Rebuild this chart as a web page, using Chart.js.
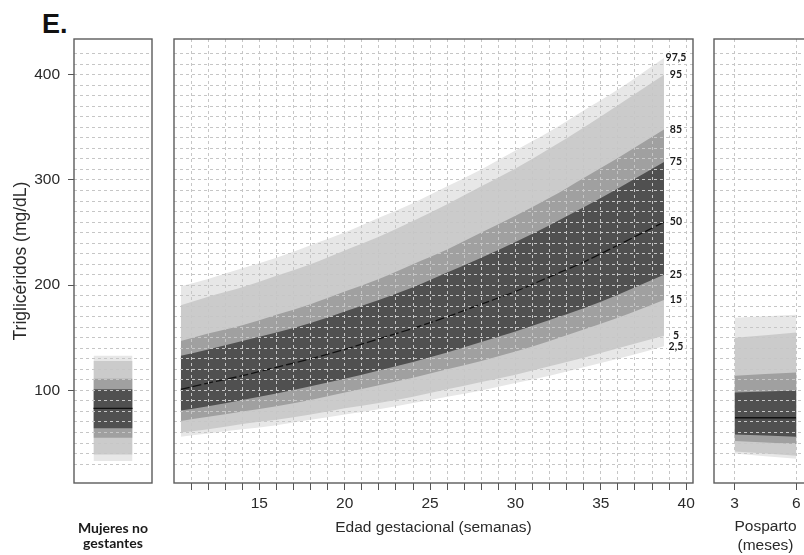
<!DOCTYPE html>
<html>
<head>
<meta charset="utf-8">
<script src="https://cdn.jsdelivr.net/npm/chart.js@4.4.1/dist/chart.umd.min.js"></script>
<style>
  html, body { margin: 0; padding: 0; width: 804px; height: 555px; overflow: hidden; background: #fff; }
  canvas { position: absolute; top: 0; }
  #tag { position: absolute; left: 42px; top: 11px; font: bold 27px "Liberation Sans", Arial, sans-serif; line-height: 27px; color: #111; }
</style>
</head>
<body>
<div id="tag">E.</div>
<canvas id="cNoGest" width="160" height="555" style="left:0"></canvas>
<canvas id="cGest" width="560" height="555" style="left:154px"></canvas>
<canvas id="cPost" width="140" height="555" style="left:694px"></canvas>
<script>
// percentile labels, top to bottom
const percentiles = ['97,5', '95', '85', '75', '50', '25', '15', '5', '2,5'];

// gestation (weeks) and percentile curves, mg/dL
const weeks = [10.4, 12, 14, 16, 18, 20, 22, 24, 26, 28, 30, 32, 34, 36, 38.7];
const gP97_5 = [199, 206, 216, 226, 238, 250, 264, 278, 294, 310, 328, 346, 366, 386, 416];
const gP95   = [181, 189, 198, 209, 220, 233, 246, 261, 277, 294, 311, 330, 350, 371, 400];
const gP85   = [147, 154, 162, 172, 182, 194, 206, 220, 234, 250, 266, 283, 302, 321, 348];
const gP75   = [133, 139, 147, 155, 164, 175, 186, 198, 212, 226, 241, 257, 274, 292, 317];
const gP50   = [101, 107, 114, 122, 130, 139, 149, 159, 170, 182, 194, 208, 222, 238, 260];
const gP25   = [81, 85, 91, 97, 104, 111, 119, 127, 136, 146, 156, 167, 178, 191, 210];
const gP15   = [71, 75, 80, 85, 91, 98, 105, 112, 120, 128, 137, 147, 158, 169, 186];
const gP5    = [60, 63, 68, 72, 77, 83, 88, 94, 101, 108, 115, 123, 131, 140, 152];
const gP2_5  = [56, 59, 63, 67, 72, 77, 82, 88, 94, 100, 107, 114, 122, 130, 142];

// non-pregnant women, one value per percentile (same order as labels)
const noGestX = [0.25, 0.75];
const noGestValues = [133, 128, 111, 101, 83, 64, 55, 39, 33];

// postpartum (months)
const postMonths = [3, 6];
const pP97_5 = [169, 172];
const pP95   = [150, 155];
const pP85   = [114, 117];
const pP75   = [98, 100];
const pP50   = [74, 74];
const pP25   = [58, 56];
const pP15   = [52, 49];
const pP5    = [42, 38];
const pP2_5  = [40, 35];

// axis ticks
const yTickLabels = [100, 200, 300, 400];
const weekTickLabels = [15, 20, 25, 30, 35, 40];
const monthTickLabels = [3, 6];

const DARK = '#505050', MID = '#a0a0a0', LIGHT = '#cbcbcb', LIGHTEST = '#e7e7e7';
const GRID = '#c6c6c6', AXIS = '#555', TEXT = '#2a2a2a';
const FONT = { family: '"Liberation Sans", Arial, sans-serif', size: 15.5 };
const Y_MIN = 12, Y_MAX = 434;

const gridY = [];
for (let v = 30; v <= 420; v += 10) gridY.push(v);
const weekTicks = [];
for (let w = 11; w <= 40; w++) weekTicks.push(w);

function bandSets(xs, s, medianDash) {
  const pts = arr => arr.map((v, i) => ({ x: xs[i], y: v }));
  const edge = (arr, fill, color) => ({
    data: pts(arr), fill: fill === null ? false : fill, backgroundColor: color || 'transparent',
    borderColor: 'transparent', borderWidth: 0, pointRadius: 0, cubicInterpolationMode: 'monotone'
  });
  return [
    { data: pts(s[4]), fill: false, borderColor: '#111', borderWidth: 1.3, borderDash: medianDash,
      pointRadius: 0, cubicInterpolationMode: 'monotone' },
    edge(s[3], 2, DARK), edge(s[5], null),
    edge(s[2], 4, MID), edge(s[6], null),
    edge(s[1], 6, LIGHT), edge(s[7], null),
    edge(s[0], 8, LIGHTEST), edge(s[8], null)
  ];
}

function yScale(withLabels) {
  return {
    min: Y_MIN, max: Y_MAX,
    afterBuildTicks: a => { a.ticks = gridY.map(v => ({ value: v })); },
    afterFit: s => { s.width = withLabels ? 74 : 0; },
    grid: { z: 1, color: GRID, lineWidth: 1, drawTicks: withLabels, tickLength: 6, tickWidth: 1,
      tickColor: c => yTickLabels.includes(c.tick && c.tick.value) ? AXIS : 'transparent' },
    border: { display: false, dash: [3, 3] },
    ticks: { display: withLabels, autoSkip: false, padding: 8, color: TEXT, font: FONT,
      callback: v => yTickLabels.includes(v) ? String(v) : '' },
    title: { display: withLabels, text: 'Triglicéridos (mg/dL)', color: TEXT,
      font: { family: FONT.family, size: 17.5 }, padding: { top: 11 } }
  };
}

const framePlugin = {
  id: 'frame',
  afterDraw(chart) {
    const { ctx, chartArea: a } = chart;
    ctx.save();
    ctx.strokeStyle = '#5c5c5c';
    ctx.lineWidth = 1.4;
    ctx.strokeRect(a.left, a.top, a.right - a.left, a.bottom - a.top);
    ctx.restore();
  }
};

const gestSeries = [gP97_5, gP95, gP85, gP75, gP50, gP25, gP15, gP5, gP2_5];
const LABEL_WEEK = 39.4;
const pctLabelPlugin = {
  id: 'pctLabels',
  afterDraw(chart) {
    const { ctx, scales: { x, y } } = chart;
    ctx.save();
    ctx.font = 'bold 10.5px Lato, "Open Sans", sans-serif';
    ctx.textAlign = 'center';
    ctx.textBaseline = 'middle';
    const cx = x.getPixelForValue(LABEL_WEEK);
    gestSeries.forEach((s, i) => {
      const py = y.getPixelForValue(s[s.length - 1]);
      const w = ctx.measureText(percentiles[i]).width;
      ctx.fillStyle = '#fff';
      ctx.fillRect(cx - w / 2 - 1.5, py - 6, w + 3, 12);
      ctx.fillStyle = '#1a1a1a';
      ctx.fillText(percentiles[i], cx, py);
    });
    ctx.restore();
  }
};

const common = {
  responsive: false, animation: false,
  plugins: { legend: { display: false }, tooltip: { enabled: false } }
};

// Mujeres no gestantes
new Chart(document.getElementById('cNoGest'), {
  type: 'line',
  data: { datasets: bandSets(noGestX, noGestValues.map(v => [v, v]), []) },
  options: {
    ...common,
    layout: { padding: { top: 39, right: 8, left: 0, bottom: 0 } },
    scales: {
      x: { type: 'linear', min: 0, max: 1,
        afterFit: s => { s.height = 72; },
        grid: { display: false }, border: { display: false },
        ticks: { display: false },
        title: { display: true, text: ['Mujeres no', 'gestantes'], color: '#1a1a1a',
          font: { family: 'Lato, "Open Sans", sans-serif', size: 14, weight: 'bold', lineHeight: '15px' },
          padding: { bottom: 4.5 } } },
      y: yScale(true)
    }
  },
  plugins: [framePlugin]
});

// Edad gestacional
new Chart(document.getElementById('cGest'), {
  type: 'line',
  data: { datasets: bandSets(weeks, gestSeries, [9, 3]) },
  options: {
    ...common,
    layout: { padding: { top: 39, right: 21, left: 20, bottom: 0 } },
    scales: {
      x: { type: 'linear', min: 10, max: 40.4,
        afterBuildTicks: a => { a.ticks = weekTicks.map(v => ({ value: v })); },
        afterFit: s => { s.height = 72; },
        grid: { z: 1, color: GRID, drawTicks: true, tickLength: 7, tickColor: AXIS, tickWidth: 1 },
        border: { display: false, dash: [3, 3] },
        ticks: { autoSkip: false, maxRotation: 0, padding: 4, color: TEXT, font: FONT,
          callback: v => weekTickLabels.includes(v) ? String(v) : '' },
        title: { display: true, text: 'Edad gestacional (semanas)', color: TEXT, font: FONT, padding: { top: 0, bottom: 17.7 } } },
      y: yScale(false)
    }
  },
  plugins: [pctLabelPlugin, framePlugin]
});

// Posparto
new Chart(document.getElementById('cPost'), {
  type: 'line',
  data: { datasets: bandSets(postMonths, [pP97_5, pP95, pP85, pP75, pP50, pP25, pP15, pP5, pP2_5], []) },
  options: {
    ...common,
    layout: { padding: { top: 39, right: 17, left: 20, bottom: 0 } },
    scales: {
      x: { type: 'linear', min: 2, max: 7,
        afterBuildTicks: a => { a.ticks = monthTickLabels.map(v => ({ value: v })); },
        afterFit: s => { s.height = 72; },
        grid: { z: 1, color: GRID, drawTicks: true, tickLength: 7, tickColor: AXIS, tickWidth: 1 },
        border: { display: false, dash: [3, 3] },
        ticks: { autoSkip: false, maxRotation: 0, padding: 4, color: TEXT, font: FONT },
        title: { display: true, text: ['Posparto', '(meses)'], color: TEXT,
          font: { ...FONT, lineHeight: '19px' }, padding: { top: 0, bottom: 0 } } },
      y: yScale(false)
    }
  },
  plugins: [framePlugin]
});
</script>
</body>
</html>
